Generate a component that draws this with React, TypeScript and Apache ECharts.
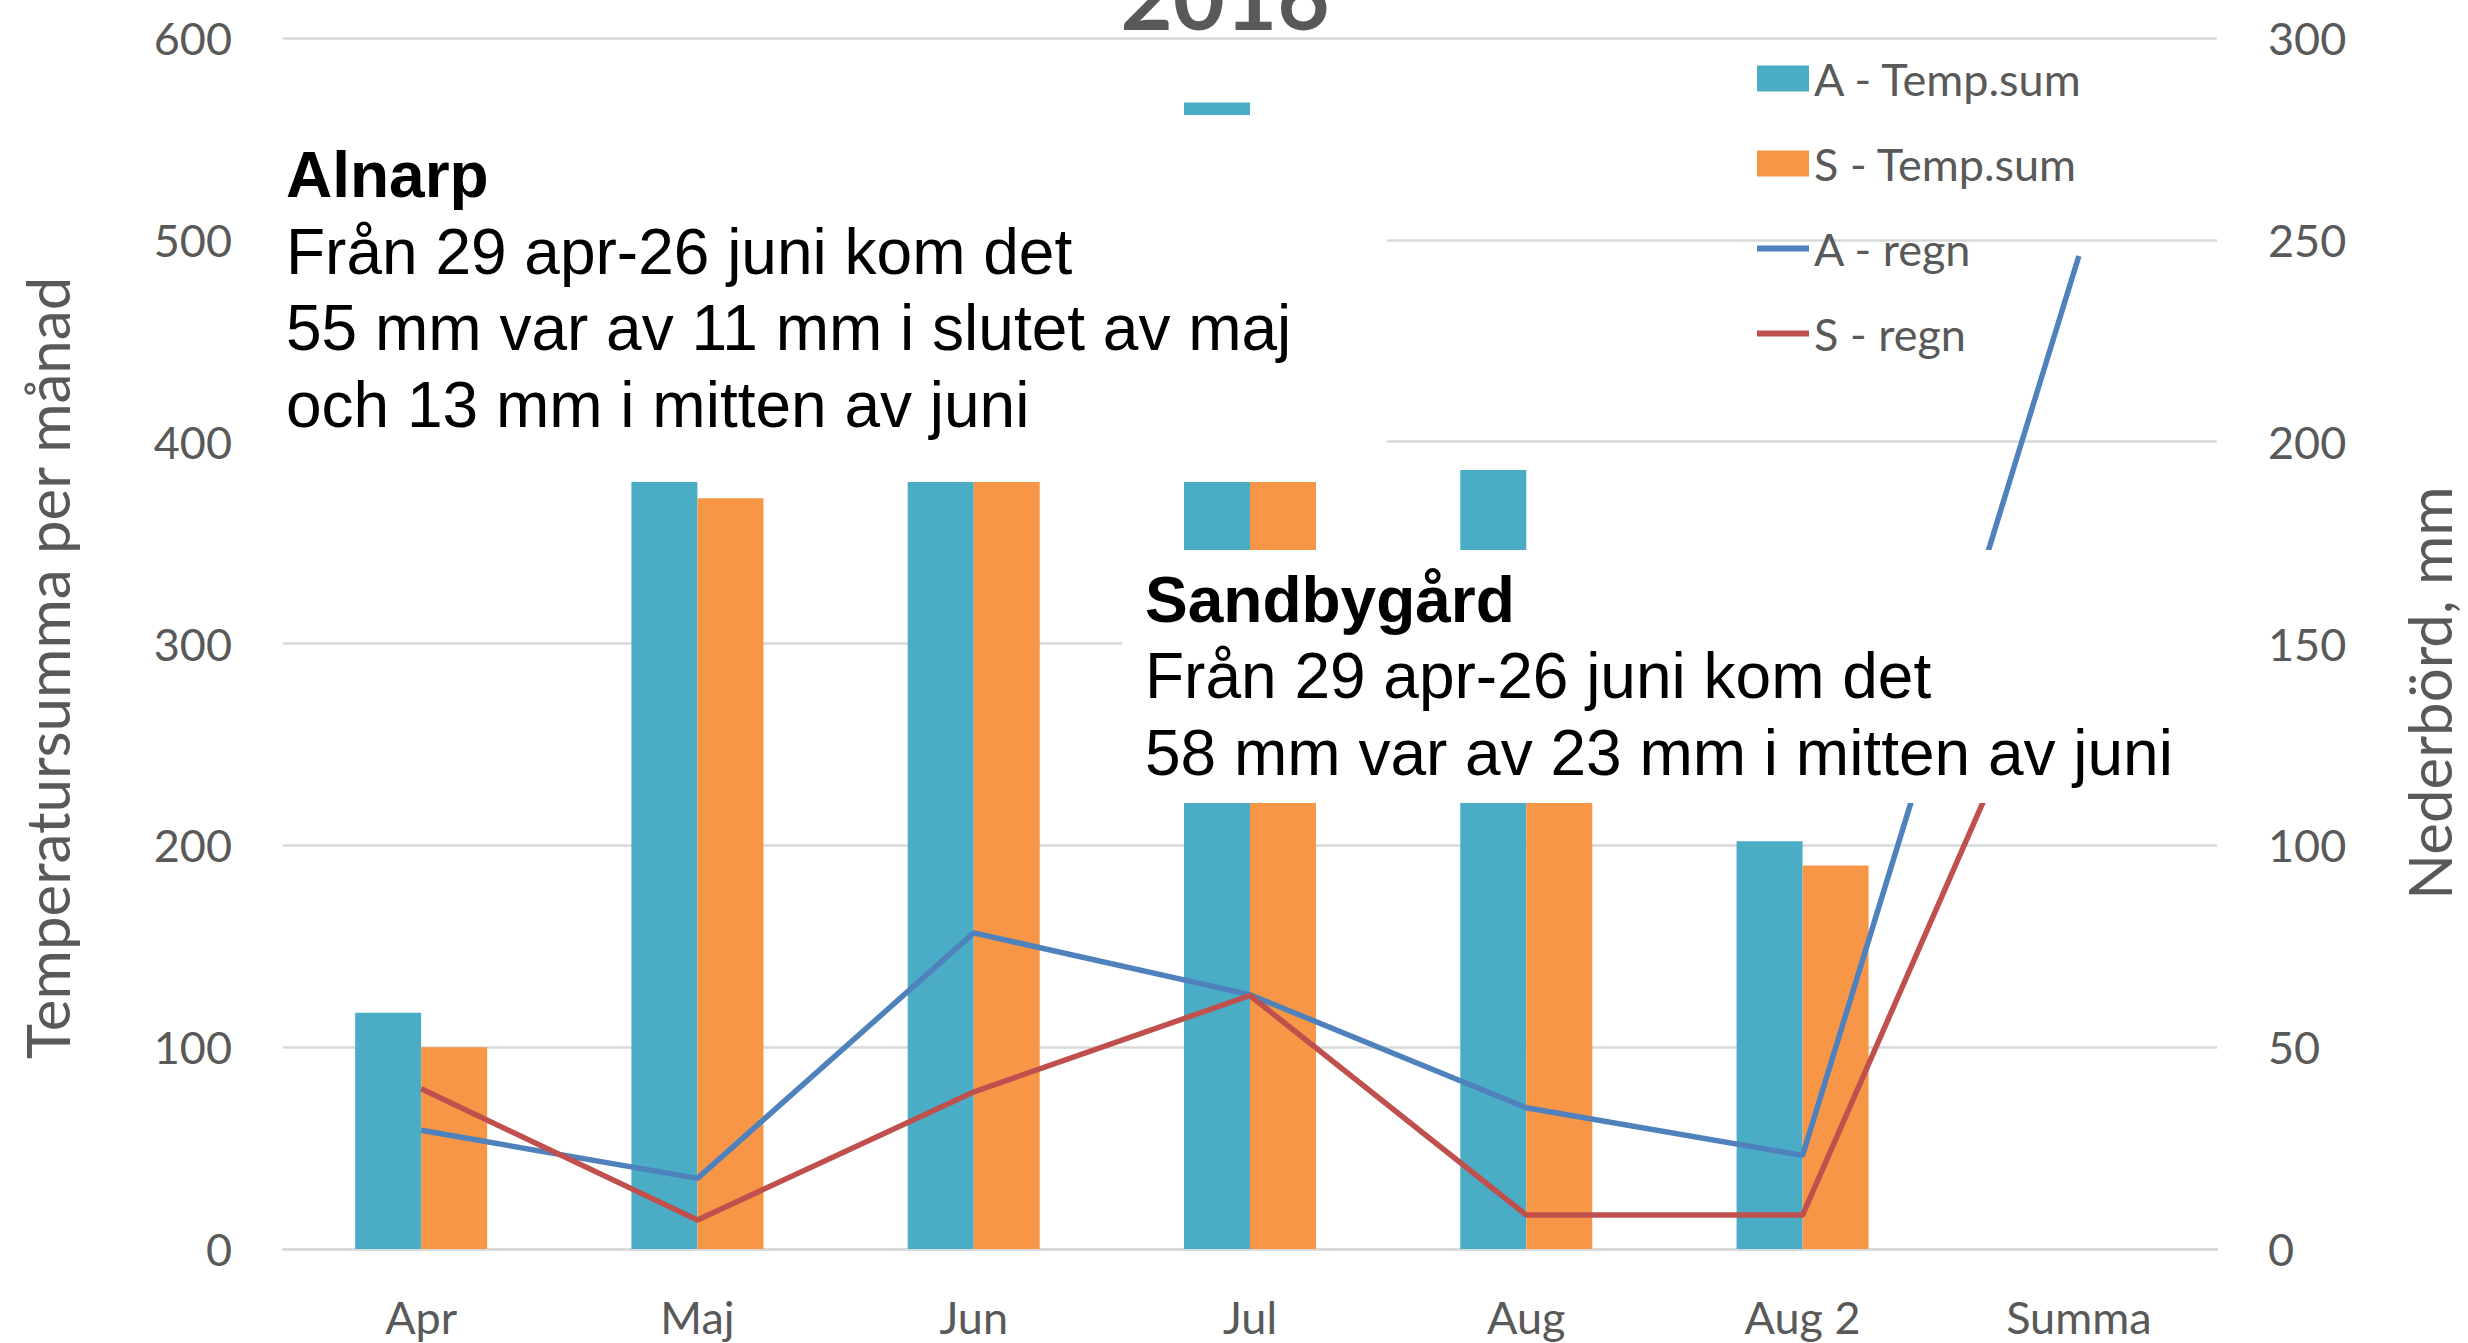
import React, { useEffect, useRef } from "react";
import * as echarts from "echarts";

const categories = ["Apr", "Maj", "Jun", "Jul", "Aug", "Aug 2", "Summa"];
const aTempSum = [117, 395, 470, 568, 386, 202, null];
const sTempSum = [100, 372, 460, 550, 340, 190, null];
const aRain = [29.4, 17.5, 78.3, 63, 35, 23.2, 246];
const sRain = [39.7, 7.2, 38.9, 62.8, 8.4, 8.4, 165];
const seriesNames = ["A - Temp.sum", "S - Temp.sum", "A - regn", "S - regn"];
const title = "2016";
const leftAxisTitle = "Temperatursumma per månad";
const rightAxisTitle = "Nederbörd, mm";
const alnarpLines = [
  "Alnarp",
  "Från 29 apr-26 juni kom det",
  "55 mm var av 11 mm i slutet av maj",
  "och 13 mm i mitten av juni",
];
const sandbyLines = [
  "Sandbygård",
  "Från 29 apr-26 juni kom det",
  "58 mm var av 23 mm i mitten av juni",
];

const GRAY = "#595959";
const AX_FONT = "Lato, 'Open Sans', sans-serif";
const NOTE_FONT = "'Liberation Sans', Arial, sans-serif";
const LINE_ICON = "path://M0,0 L52,0 L52,6 L0,6 Z";

export default function App() {
  const ref = useRef<HTMLDivElement>(null);
  useEffect(() => {
    if (!ref.current) return;
    const chart = echarts.init(ref.current, null, { renderer: "svg" });
    const noteText = (lines: string[], x: number, baselines: number[]) =>
      lines.map((t, i) => ({
        type: "text",
        z: 110,
        x,
        y: baselines[i] - 22,
        style: {
          text: t,
          fontFamily: NOTE_FONT,
          fontSize: 64,
          fontWeight: i === 0 ? "bold" : "normal",
          fill: "#000000",
          textAlign: "left",
          textVerticalAlign: "middle",
        },
      }));
    chart.setOption({
      animation: false,
      backgroundColor: "#ffffff",
      grid: { left: 283, right: 251, top: 38, bottom: 94, containLabel: false },
      legend: {
        orient: "vertical",
        left: 1752,
        top: 51,
        itemWidth: 52,
        itemHeight: 26,
        itemGap: 40,
        data: seriesNames.map((n, i) =>
          i < 2 ? { name: n, icon: "rect" } : { name: n, icon: LINE_ICON }
        ),
        textStyle: {
          fontFamily: AX_FONT,
          fontSize: 45,
          lineHeight: 45,
          color: GRAY,
        },
      },
      xAxis: {
        type: "category",
        data: categories,
        axisTick: { show: false },
        axisLine: { lineStyle: { color: "#D9D9D9", width: 2.5 } },
        axisLabel: {
          fontFamily: AX_FONT,
          fontSize: 45,
          color: GRAY,
          margin: 45,
        },
      },
      yAxis: [
        {
          type: "value",
          min: 0,
          max: 600,
          interval: 100,
          axisLine: { show: false },
          axisTick: { show: false },
          splitLine: { lineStyle: { color: "#D9D9D9", width: 2.5 } },
          axisLabel: {
            fontFamily: AX_FONT,
            fontSize: 45,
            color: GRAY,
            margin: 51,
          },
        },
        {
          type: "value",
          min: 0,
          max: 300,
          interval: 50,
          axisLine: { show: false },
          axisTick: { show: false },
          splitLine: { show: false },
          axisLabel: {
            fontFamily: AX_FONT,
            fontSize: 45,
            color: GRAY,
            margin: 51,
          },
        },
      ],
      series: [
        {
          name: seriesNames[0],
          type: "bar",
          data: aTempSum,
          barWidth: 66,
          barGap: "0%",
          itemStyle: { color: "#4BACC6" },
        },
        {
          name: seriesNames[1],
          type: "bar",
          data: sTempSum,
          barWidth: 66,
          barGap: "0%",
          itemStyle: { color: "#F79646" },
        },
        {
          name: seriesNames[2],
          type: "line",
          yAxisIndex: 1,
          data: aRain,
          symbol: "none",
          lineStyle: { color: "#4F81BD", width: 5.5 },
          itemStyle: { color: "#4F81BD" },
          z: 5,
        },
        {
          name: seriesNames[3],
          type: "line",
          yAxisIndex: 1,
          data: sRain,
          symbol: "none",
          lineStyle: { color: "#C0504D", width: 5.5 },
          itemStyle: { color: "#C0504D" },
          z: 5,
        },
      ],
      graphic: [
        {
          type: "rect",
          z: 100,
          shape: { x: 280, y: 115, width: 1107, height: 367 },
          style: { fill: "#ffffff" },
        },
        {
          type: "rect",
          z: 100,
          shape: { x: 1122, y: 550, width: 1103, height: 253 },
          style: { fill: "#ffffff" },
        },
        ...noteText(alnarpLines, 286, [197, 274, 350, 427]),
        ...noteText(sandbyLines, 1145, [622, 698, 775]),
        {
          type: "text",
          z: 110,
          x: 1225,
          y: -5,
          style: {
            text: title,
            fontFamily: AX_FONT,
            fontSize: 90,
            fontWeight: "bold",
            fill: GRAY,
            textAlign: "center",
            textVerticalAlign: "middle",
          },
        },
        {
          type: "text",
          z: 110,
          x: 47,
          y: 668,
          rotation: Math.PI / 2,
          style: {
            text: leftAxisTitle,
            fontFamily: AX_FONT,
            fontSize: 60,
            fill: GRAY,
            textAlign: "center",
            textVerticalAlign: "middle",
          },
        },
        {
          type: "text",
          z: 110,
          x: 2429,
          y: 693,
          rotation: Math.PI / 2,
          style: {
            text: rightAxisTitle,
            fontFamily: AX_FONT,
            fontSize: 60,
            fill: GRAY,
            textAlign: "center",
            textVerticalAlign: "middle",
          },
        },
      ],
    });
    return () => chart.dispose();
  }, []);
  return (
    <div
      ref={ref}
      style={{ position: "fixed", left: 0, top: 0, width: "2468px", height: "1343px" }}
    />
  );
}
